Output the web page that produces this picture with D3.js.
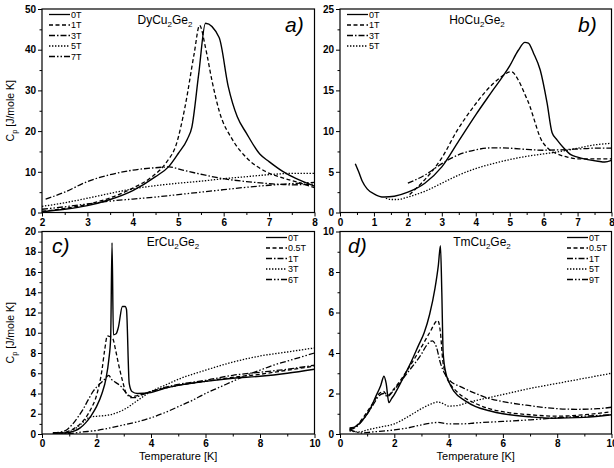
<!DOCTYPE html>
<html>
<head>
<meta charset="utf-8">
<script src="https://cdn.jsdelivr.net/npm/d3@7/dist/d3.min.js"></script>
<style>
  html, body { margin: 0; padding: 0; background: #fff; }
  svg { display: block; }
  text { font-family: "Liberation Sans", Arial, Helvetica, sans-serif; fill: #000; }
  .tick text { font-weight: bold; font-size: 10px; }
  .domain { display: none; }
  .tick line { stroke: #000; stroke-width: 1; }
</style>
</head>
<body>
<svg id="chart" width="614" height="468"></svg>
<script>
// ---- DyCu2Ge2 : specific heat [J/mole K] vs temperature [K] ----
const dy0T = [[2,0.2],[2.5,0.8],[3,1.7],[3.5,3.2],[4,5.4],[4.5,8.8],[4.8,11.4],[5.0,14.5],[5.2,18.0],[5.3,21.0],[5.45,34.0],[5.6,46.5],[5.9,43.0],[6.1,31.0],[6.3,23.5],[6.5,19.5],[6.8,14.3],[7.0,12.5],[7.3,10.1],[7.6,8.3],[8.0,6.5]];
const dy1T = [[2,0.3],[2.5,1.0],[3,2.0],[3.5,3.6],[4,6.0],[4.4,8.6],[4.75,12.5],[4.95,16.5],[5.15,26],[5.35,39],[5.47,46],[5.6,40.5],[5.75,32],[5.9,25],[6.2,17.8],[6.5,13.5],[6.9,10.2],[7.3,8.5],[7.7,7.2],[8.0,6.1]];
const dy3T = [[2.08,3.3],[2.5,5.0],[3,7.6],[3.5,9.3],[4,10.4],[4.5,11.0],[4.8,11.2],[5.1,10.4],[5.5,9.4],[6,8.3],[6.5,7.6],[7,7.1],[7.5,6.8],[8,7.0]];
const dy5T = [[2,1.5],[2.5,2.4],[3,3.5],[3.5,4.7],[4,5.8],[4.5,6.6],[5,7.2],[5.5,7.7],[6,8.3],[6.5,8.8],[7,9.3],[7.5,9.6],[8,9.6]];
const dy7T = [[2,0.8],[2.5,1.4],[3,2.1],[3.5,2.8],[4,3.3],[4.5,3.8],[5,4.4],[5.5,5.0],[6,5.6],[6.5,6.2],[7,6.7],[7.5,7.1],[8,7.4]];

// ---- HoCu2Ge2 ----
const ho0T = [[0.45,6.0],[0.55,5.0],[0.65,3.9],[0.8,2.9],[1.0,2.3],[1.3,1.9],[1.6,2.0],[2.0,2.5],[2.5,3.6],[3.0,5.6],[3.5,8.8],[4.0,12.0],[4.5,15.0],[5.0,18.0],[5.25,19.9],[5.45,20.9],[5.55,20.8],[5.7,19.6],[5.9,17.5],[6.1,13.5],[6.25,9.8],[6.4,8.9],[6.6,7.9],[6.8,7.1],[7.0,6.8],[7.3,6.5],[7.6,6.3],[7.8,6.2],[8.0,6.4]];
const ho1T = [[2.05,2.2],[2.4,3.6],[2.7,5.0],[3.0,6.7],[3.44,10],[3.9,12.8],[4.32,15],[4.7,16.5],[5.05,17.3],[5.25,16.3],[5.45,14.5],[5.6,13.0],[5.7,11.7],[5.9,9.2],[6.15,7.8],[6.4,7.2],[6.7,6.8],[7.0,6.6],[7.5,6.6],[8.0,6.6]];
const ho3T = [[2.0,3.6],[2.5,4.6],[3.0,6.0],[3.5,7.1],[4.0,7.7],[4.5,7.95],[5.0,7.9],[5.5,7.75],[6.0,7.65],[6.5,7.7],[7.0,7.8],[7.5,7.9],[8.0,7.9]];
const ho5T = [[1.35,1.75],[1.5,1.6],[1.7,1.6],[2.0,1.9],[2.5,2.6],[3.0,3.6],[3.5,4.6],[4.0,5.4],[4.5,6.0],[5.0,6.5],[5.5,6.9],[6.0,7.2],[6.5,7.5],[7.0,7.9],[7.5,8.3],[8.0,8.5]];

// ---- ErCu2Ge2 ----
const er0T = [[0.4,0.1],[0.8,0.1],[1.0,0.15],[1.2,0.3],[1.4,0.6],[1.6,1.1],[1.8,1.8],[2.0,2.7],[2.2,4.0],[2.35,5.5],[2.45,7.3],[2.52,9.5],[2.57,18.9],[2.62,9.8],[2.72,9.9],[2.8,10.5],[2.95,12.6],[3.05,12.6],[3.1,12.3],[3.2,5.0],[3.3,4.2],[3.5,4.0],[4.0,4.1],[4.5,4.5],[5.0,4.8],[6.0,5.2],[7.0,5.5],[8.0,5.7],[9.0,6.0],[10.0,6.4]];
const er05T = [[0.4,0.1],[0.8,0.15],[1.0,0.3],[1.2,0.6],[1.4,1.0],[1.6,1.6],[1.8,2.5],[2.0,3.8],[2.2,6.3],[2.3,8.3],[2.4,9.7],[2.5,9.6],[2.6,9.4],[2.7,8.3],[2.8,7.0],[2.95,5.3],[3.1,4.0],[3.3,3.7],[3.5,3.8],[4.0,4.2],[5.0,4.8],[6.0,5.2],[7.0,5.6],[8.0,5.9],[9.0,6.3],[10.0,6.7]];
const er1T = [[0.4,0.1],[0.7,0.2],[0.9,0.4],[1.1,0.9],[1.3,1.6],[1.5,2.4],[1.7,3.4],[1.9,4.3],[2.1,4.9],[2.3,5.4],[2.45,5.8],[2.55,5.4],[2.7,5.1],[2.9,4.7],[3.1,4.0],[3.25,3.6],[3.4,3.6],[3.6,3.8],[4.0,4.2],[5.0,4.9],[6.0,5.3],[7.0,5.8],[8.0,6.1],[9.0,6.4],[10.0,6.8]];
const er3T = [[0.4,0.05],[0.8,0.1],[1.0,0.2],[1.2,0.5],[1.4,0.9],[1.6,1.4],[1.8,1.7],[2.0,1.75],[2.5,1.9],[3.0,2.4],[3.5,3.3],[4.0,4.2],[4.5,4.8],[5.0,5.4],[6.0,6.3],[7.0,7.1],[8.0,7.7],[9.0,8.1],[10.0,8.5]];
const er6T = [[0.4,0.0],[1.0,0.05],[1.5,0.2],[2.0,0.35],[2.5,0.6],[3.0,0.9],[3.5,1.2],[4.0,1.6],[4.5,2.1],[5.0,2.7],[5.5,3.3],[6.0,4.0],[6.5,4.6],[7.0,5.2],[7.5,5.8],[8.0,6.3],[8.5,6.8],[9.0,7.2],[9.5,7.6],[10.0,8.0]];

// ---- TmCu2Ge2 ----
const tm0T = [[0.35,0.3],[0.5,0.32],[0.7,0.5],[0.9,0.8],[1.1,1.2],[1.3,1.8],[1.5,2.4],[1.62,2.85],[1.7,2.5],[1.8,1.55],[1.9,1.75],[2.0,1.95],[2.3,2.7],[2.6,3.5],[2.9,4.4],[3.1,5.0],[3.3,5.9],[3.5,7.2],[3.62,8.3],[3.7,9.3],[3.75,7.0],[3.8,4.0],[3.9,3.0],[4.0,2.6],[4.2,2.1],[4.6,1.65],[5.0,1.35],[5.5,1.15],[6.0,1.0],[7.0,0.85],[7.8,0.78],[9.0,0.82],[10.0,0.95]];
const tm05T = [[0.35,0.25],[0.6,0.4],[0.9,0.9],[1.2,1.5],[1.45,2.0],[1.6,2.1],[1.75,1.9],[2.0,2.25],[2.5,3.2],[3.0,4.3],[3.3,5.0],[3.6,5.6],[3.7,5.0],[3.78,3.7],[3.9,2.9],[4.0,2.6],[4.3,2.1],[4.7,1.7],[5.0,1.5],[5.5,1.25],[6.0,1.1],[7.0,0.95],[8.0,0.88],[9.0,0.95],[10.0,1.1]];
const tm1T = [[0.35,0.2],[0.6,0.35],[0.9,0.8],[1.2,1.4],[1.45,1.9],[1.6,2.0],[1.75,1.85],[2.0,2.2],[2.5,3.05],[3.0,3.95],[3.2,4.4],[3.4,4.6],[3.55,4.3],[3.7,3.5],[3.85,3.0],[4.0,2.7],[4.5,2.3],[5.0,2.0],[5.5,1.75],[6.0,1.6],[7.0,1.4],[8.0,1.25],[8.7,1.22],[9.5,1.25],[10.0,1.32]];
const tm5T = [[0.35,0.15],[0.7,0.1],[1.0,0.2],[1.5,0.35],[2.0,0.5],[2.5,0.85],[3.0,1.25],[3.3,1.45],[3.6,1.58],[3.8,1.5],[4.0,1.38],[4.3,1.4],[4.7,1.55],[5.0,1.65],[6.0,1.95],[7.0,2.25],[8.0,2.5],[9.0,2.75],[10.0,3.0]];
const tm9T = [[0.35,0.2],[0.6,0.1],[0.8,0.05],[1.2,0.1],[2.0,0.2],[2.5,0.3],[3.0,0.45],[3.6,0.57],[4.0,0.5],[4.5,0.5],[5.0,0.55],[6.0,0.62],[7.0,0.7],[8.0,0.8],[9.0,0.88],[10.0,0.95]];

// line styles
const DASH = {
  solid: null,
  dash: "4,2.5",
  dashdot: "6,2,1.5,2",
  dot: "1.4,1.6",
  dashdotdot: "6,2,1.5,2,1.5,2"
};

const panels = [
  { compound: ["Dy","Cu","2","Ge","2"], letter: "a)",
    box: [42, 9, 314.5, 212.5], xDomain: [2, 8], yDomain: [0, 50],
    xMajor: [2,3,4,5,6,7,8], xMinor: [2.5,3.5,4.5,5.5,6.5,7.5],
    yMajor: [0,10,20,30,40,50], yMinor: [5,15,25,35,45],
    titleX: 165, titleY: 24, letterX: 285, letterY: 32,
    legendX: 49, legendY: 14.5, yLabel: true, xLabel: false,
    series: [
      { label: "0T", data: dy0T, style: "solid" },
      { label: "1T", data: dy1T, style: "dash" },
      { label: "3T", data: dy3T, style: "dashdot" },
      { label: "5T", data: dy5T, style: "dot" },
      { label: "7T", data: dy7T, style: "dashdotdot" }
    ] },
  { compound: ["Ho","Cu","2","Ge","2"], letter: "b)",
    box: [340, 9, 611.5, 212.5], xDomain: [0, 8], yDomain: [0, 25],
    xMajor: [0,1,2,3,4,5,6,7,8], xMinor: [0.5,1.5,2.5,3.5,4.5,5.5,6.5,7.5],
    yMajor: [0,5,10,15,20,25], yMinor: [2.5,7.5,12.5,17.5,22.5],
    titleX: 477, titleY: 24, letterX: 578, letterY: 32,
    legendX: 347, legendY: 14.5, yLabel: false, xLabel: false,
    series: [
      { label: "0T", data: ho0T, style: "solid" },
      { label: "1T", data: ho1T, style: "dash" },
      { label: "3T", data: ho3T, style: "dashdot" },
      { label: "5T", data: ho5T, style: "dot" }
    ] },
  { compound: ["Er","Cu","2","Ge","2"], letter: "c)",
    box: [42, 231.5, 314.5, 434], xDomain: [0, 10], yDomain: [0, 20],
    xMajor: [0,2,4,6,8,10], xMinor: [1,3,5,7,9],
    yMajor: [0,2,4,6,8,10,12,14,16,18,20], yMinor: [1,3,5,7,9,11,13,15,17,19],
    titleX: 173, titleY: 246, letterX: 52, letterY: 253,
    legendX: 266, legendY: 237.5, yLabel: true, xLabel: true,
    series: [
      { label: "0T", data: er0T, style: "solid" },
      { label: "0.5T", data: er05T, style: "dash" },
      { label: "1T", data: er1T, style: "dashdot" },
      { label: "3T", data: er3T, style: "dot" },
      { label: "6T", data: er6T, style: "dashdotdot" }
    ] },
  { compound: ["Tm","Cu","2","Ge","2"], letter: "d)",
    box: [340, 231.5, 611.5, 434], xDomain: [0, 10], yDomain: [0, 10],
    xMajor: [0,2,4,6,8,10], xMinor: [1,3,5,7,9],
    yMajor: [0,2,4,6,8,10], yMinor: [1,3,5,7,9],
    titleX: 482, titleY: 246, letterX: 348, letterY: 253,
    legendX: 567, legendY: 237.5, yLabel: false, xLabel: true,
    series: [
      { label: "0T", data: tm0T, style: "solid" },
      { label: "0.5T", data: tm05T, style: "dash" },
      { label: "1T", data: tm1T, style: "dashdot" },
      { label: "5T", data: tm5T, style: "dot" },
      { label: "9T", data: tm9T, style: "dashdotdot" }
    ] }
];

const svg = d3.select("#chart");

function drawPanel(p) {
  const [x0, y0, x1, y1] = p.box;
  const x = d3.scaleLinear().domain(p.xDomain).range([x0, x1]);
  const y = d3.scaleLinear().domain(p.yDomain).range([y1, y0]);
  const g = svg.append("g");

  // minor ticks
  g.append("g").attr("transform", `translate(0,${y1})`)
    .call(d3.axisBottom(x).tickValues(p.xMinor).tickSize(2.5).tickSizeOuter(0).tickFormat(""));
  g.append("g").attr("transform", `translate(${x0},0)`)
    .call(d3.axisLeft(y).tickValues(p.yMinor).tickSize(2.5).tickSizeOuter(0).tickFormat(""));

  // major ticks with labels
  g.append("g").attr("transform", `translate(0,${y1})`)
    .call(d3.axisBottom(x).tickValues(p.xMajor).tickSize(4).tickSizeOuter(0).tickPadding(2)
      .tickFormat(d3.format("d")));
  g.append("g").attr("transform", `translate(${x0},0)`)
    .call(d3.axisLeft(y).tickValues(p.yMajor).tickSize(4).tickSizeOuter(0).tickPadding(2)
      .tickFormat(d3.format("d")));

  // clip for curves
  const clipId = "clip-" + p.letter[0];
  svg.append("clipPath").attr("id", clipId)
    .append("rect").attr("x", x0).attr("y", y0).attr("width", x1 - x0).attr("height", y1 - y0);

  const line = d3.line().x(d => x(d[0])).y(d => y(d[1])).curve(d3.curveMonotoneX);
  const curves = g.append("g").attr("clip-path", `url(#${clipId})`);
  p.series.forEach(s => {
    curves.append("path")
      .attr("d", line(s.data))
      .attr("fill", "none")
      .attr("stroke", "#000")
      .attr("stroke-width", s.style === "solid" ? 1.4 : 1.3)
      .attr("stroke-dasharray", DASH[s.style]);
  });

  // frame
  g.append("rect").attr("x", x0).attr("y", y0)
    .attr("width", x1 - x0).attr("height", y1 - y0)
    .attr("fill", "none").attr("stroke", "#000").attr("stroke-width", 1.2);

  // legend
  p.series.forEach((s, i) => {
    const ly = p.legendY + i * 10.5;
    g.append("line")
      .attr("x1", p.legendX).attr("x2", p.legendX + 21)
      .attr("y1", ly).attr("y2", ly)
      .attr("stroke", "#000").attr("stroke-width", 1.3)
      .attr("stroke-dasharray", DASH[s.style]);
    g.append("text")
      .attr("x", p.legendX + 22).attr("y", ly + 3.3)
      .attr("font-size", 9).text(s.label);
  });

  // compound name with subscripts
  const t = g.append("text").attr("x", p.titleX).attr("y", p.titleY)
    .attr("text-anchor", "middle").attr("font-size", 12);
  const c = p.compound;
  t.append("tspan").text(c[0] + c[1]);
  t.append("tspan").attr("font-size", 8).attr("dy", 3).text(c[2]);
  t.append("tspan").attr("dy", -3).text(c[3]);
  t.append("tspan").attr("font-size", 8).attr("dy", 3).text(c[4]);

  // panel letter
  g.append("text").attr("x", p.letterX).attr("y", p.letterY)
    .attr("font-size", 21).attr("font-style", "italic").text(p.letter);

  if (p.yLabel) {
    const yl = g.append("text")
      .attr("transform", `translate(14,${(y0 + y1) / 2}) rotate(-90)`)
      .attr("text-anchor", "middle").attr("font-size", 10.5);
    yl.append("tspan").text("C");
    yl.append("tspan").attr("font-size", 7.5).attr("dy", 2.5).text("p");
    yl.append("tspan").attr("dy", -2.5).text(" [J/mole K]");
  }
  if (p.xLabel) {
    g.append("text").attr("x", (x0 + x1) / 2).attr("y", 460)
      .attr("text-anchor", "middle").attr("font-size", 11).text("Temperature [K]");
  }
}

panels.forEach(drawPanel);
</script>
</body>
</html>
